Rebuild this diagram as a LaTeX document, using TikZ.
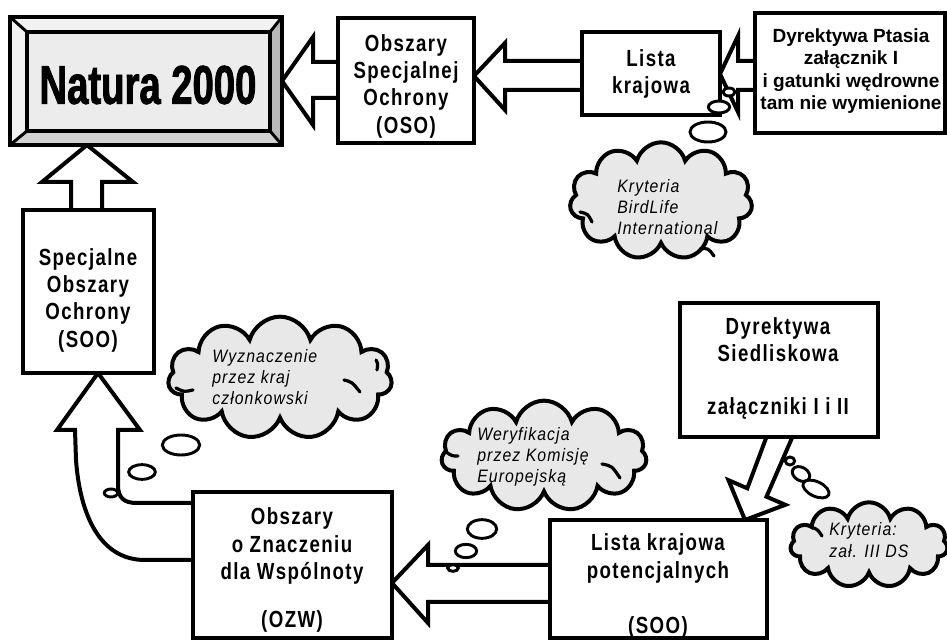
\documentclass[tikz,border=0pt]{standalone}
\usepackage{fontspec}
\setmainfont{Liberation Sans}
\newfontfamily\boxfont[FakeStretch=0.80,LetterSpace=6]{Liberation Sans}
\newfontfamily\natfont[FakeStretch=0.70,FakeBold=1.5]{Liberation Sans}
\newfontfamily\cloudfont[FakeStretch=0.88,LetterSpace=6]{Liberation Sans}
\newfontfamily\ptfont{Liberation Sans}
\usetikzlibrary{shapes.symbols,fit,calc}
\begin{document}
\begin{tikzpicture}[x=0.75pt,y=-0.75pt,line join=miter,
  box/.style={draw,line width=3pt,fill=white,inner sep=0pt},
  blk/.style={draw,line width=3pt,fill=white,line join=miter},
  bubble/.style={draw,line width=2.2pt,fill=white},
  curl/.style={line width=2.4pt,line cap=round},
  cloudbox/.style={cloud,draw,line width=3pt,fill=gray!18,cloud puffs=11,cloud ignores aspect,inner sep=0pt},
  btext/.style={font=\boxfont\bfseries\fontsize{17.5}{20.5}\selectfont,align=center,inner sep=0pt},
  ptext/.style={font=\ptfont\bfseries\fontsize{14.3}{16.7}\selectfont,align=center,inner sep=0pt},
  ctext/.style={font=\cloudfont\itshape\fontsize{13.5}{16}\selectfont,align=left,inner sep=0pt,anchor=west}]
\useasboundingbox (0,0) rectangle (947,641);

% clouds
\node[cloudbox,minimum width=137pt,minimum height=88pt] (c1) at (661,201) {};
\node[cloudbox,minimum width=168pt,minimum height=92pt] (c2) at (280,378) {};
\node[cloudbox,minimum width=154pt,minimum height=83pt] (c3) at (544,456) {};
\node[cloudbox,minimum width=118pt,minimum height=64pt] (c4) at (869,545) {};
% inner curls of the clouds
\draw[curl] (580,212) .. controls (588,214) .. (592,222);
\draw[curl] (700,249) .. controls (708,248) .. (714,256);
\draw[curl] (176,388) .. controls (184,392) .. (193,390);
\draw[curl] (344,380) .. controls (352,382) .. (360,392);
\draw[curl] (376,360) .. controls (378,364) .. (377,370);
\draw[curl] (446,452) .. controls (452,456) .. (458,456);
\draw[curl] (602,464) .. controls (612,466) .. (620,478);
\draw[curl] (814,528) .. controls (818,530) .. (822,536);

% block arrows (drawn first, boxes cover their bases)
\draw[blk] (345,62) -- (313,62) -- (313,37) -- (282,81) -- (313,125) -- (313,98) -- (345,98) -- cycle;
\draw[blk] (590,61) -- (505,61) -- (505,43) -- (474,76) -- (505,110) -- (505,90) -- (590,90) -- cycle;
\draw[blk] (762,61) -- (738,61) -- (738,36) -- (720,74) -- (738,112) -- (738,90) -- (762,90) -- cycle;
\draw[blk] (71,216) -- (71,182) -- (42,182) -- (87,145) -- (133,182) -- (102,182) -- (102,216) -- cycle;
\draw[blk] (556,565) -- (428,565) -- (428,545) -- (392,583) -- (428,623) -- (428,602) -- (556,602) -- cycle;
\draw[blk] (768.7,431) -- (747.3,488.3) -- (728.5,480.2) -- (745,520) -- (785.3,504.8) -- (766.5,496.7) -- (795,431) -- cycle;
\draw[blk] (200,560) -- (145,560) .. controls (100,560) and (80,515) .. (76,460) -- (75,430) -- (57,430) -- (98,373) -- (140,430) -- (118,430) -- (118,485) .. controls (118,498) and (124,503) .. (137,503) -- (200,503);

% Natura 2000 bevelled box
\fill[gray!10] (10,17) -- (282,17) -- (270,32) -- (27,32) -- cycle;
\fill[gray!10] (10,17) -- (27,32) -- (27,131) -- (10,145) -- cycle;
\fill[gray!55] (282,17) -- (282,145) -- (270,131) -- (270,32) -- cycle;
\fill[gray!35] (10,145) -- (282,145) -- (270,131) -- (27,131) -- cycle;
\node[draw,line width=3pt,inner sep=0pt,fit={(10,17)(282,145)}] (natura) {};
\draw[line width=3pt,fill=gray!15] (27,32) rectangle (270,131);
\draw[line width=2.2pt] (10,17) -- (27,32) (282,17) -- (270,32) (282,145) -- (270,131) (10,145) -- (27,131);

% boxes
\node[box,fit={(338,18)(474,143)}] (oso) {};
\node[box,fit={(582,32)(720,115)}] (lista) {};
\node[box,fit={(755,13)(945,133)}] (ptasia) {};
\node[box,fit={(23,210)(154,373)}] (soo) {};
\node[box,fit={(193,492)(392,638)}] (ozw) {};
\node[box,fit={(550,520)(767,638)}] (lpot) {};
\node[box,fit={(680,303)(878,437)}] (sied) {};

% thought bubbles
\draw[bubble] (729,92) ellipse [x radius=4.5pt,y radius=3pt];
\draw[bubble] (719,107) ellipse [x radius=8pt,y radius=4.5pt];
\draw[bubble] (708,132) ellipse [x radius=13.5pt,y radius=7.5pt];
\draw[bubble] (181,445) ellipse [x radius=14pt,y radius=7.5pt];
\draw[bubble] (142,472) ellipse [x radius=10pt,y radius=5.5pt];
\draw[bubble] (111,493) ellipse [x radius=5pt,y radius=3pt];
\draw[bubble] (482,529) ellipse [x radius=11pt,y radius=7pt];
\draw[bubble] (466,551) ellipse [x radius=8pt,y radius=5pt];
\draw[bubble] (453,568) ellipse [x radius=4pt,y radius=2.5pt];
\draw[bubble] (790,461) ellipse [x radius=3.5pt,y radius=3pt];
\draw[bubble,rotate around={-30:(801,474)}] (801,474) ellipse [x radius=7pt,y radius=5pt];
\draw[bubble,rotate around={-25:(816,489)}] (816,489) ellipse [x radius=10.5pt,y radius=5.5pt];

% texts
\node[font=\natfont\bfseries\fontsize{41}{41}\selectfont,inner sep=0pt] (natura-t) at (148,85) {Natura 2000};
\node[btext] (oso-t) at (406,86) {Obszary\\Specjalnej\\Ochrony\\(OSO)};
\node[btext] (lista-t) at (651,74) {Lista\\krajowa};
\node[ptext] (ptasia-t) at (851,71) {Dyrektywa Ptasia\\załącznik I\\i gatunki wędrowne\\tam nie wymienione};
\node[btext] (soo-t) at (88,300) {Specjalne\\Obszary\\Ochrony\\(SOO)};
\node[btext] (ozw-t) at (292,570) {Obszary\\o Znaczeniu\\dla Wspólnoty\\[15.4pt](OZW)};
\node[btext] (lpot-t) at (658,586) {Lista krajowa\\potencjalnych\\[20.6pt](SOO)};
\node[btext] (sied-t) at (778,368) {Dyrektywa\\Siedliskowa\\[19pt]załączniki I i II};
\node[ctext] (c1-t) at (617,207) {Kryteria\\BirdLife\\International};
\node[ctext] (c2-t) at (212,377) {Wyznaczenie\\przez kraj\\członkowski};
\node[ctext] (c3-t) at (477,457) {Weryfikacja\\przez Komisję\\Europejską};
\node[ctext,font=\cloudfont\itshape\fontsize{13.5}{17}\selectfont] (c4-t) at (829,540) {Kryteria:\\zał. III DS};
\end{tikzpicture}
\end{document}
